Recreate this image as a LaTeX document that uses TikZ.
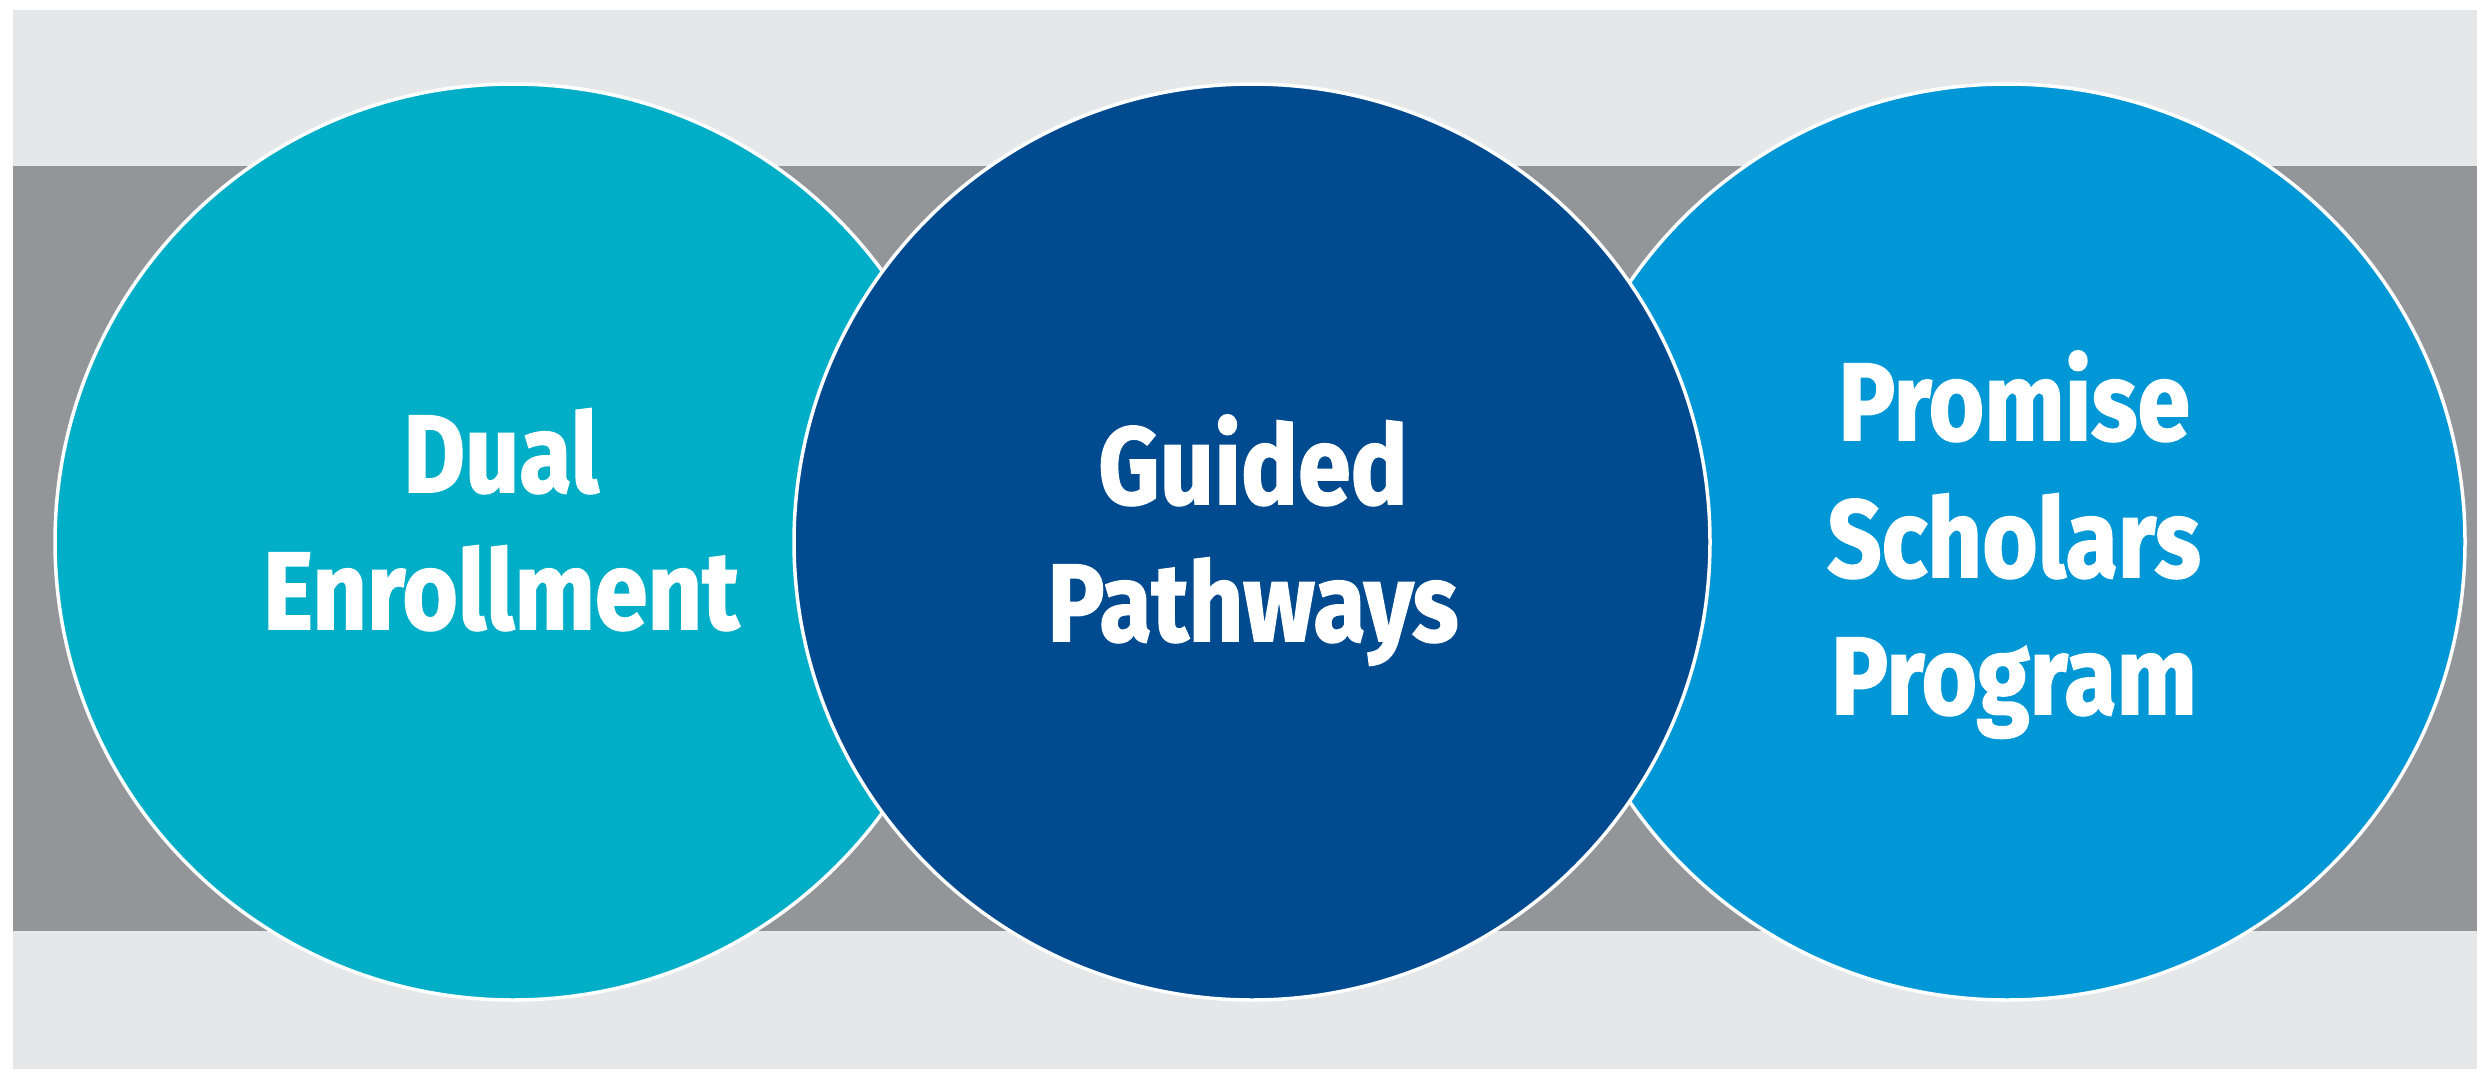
\documentclass[tikz,border=0pt]{standalone}
\usepackage{fontspec}
\usepackage{graphicx}
\setmainfont{Fira Sans}[BoldFeatures={FakeBold=1.6}]
\definecolor{bglight}{HTML}{E6E7E8}
\definecolor{banddark}{HTML}{949599}
\definecolor{tealc}{HTML}{00AFC7}
\definecolor{navyc}{HTML}{004A8F}
\definecolor{skyc}{HTML}{0097D6}
\newcommand\labelfont{\bfseries\fontsize{110}{137}\selectfont}
\newlength\enwidth
\begin{document}
\settowidth\enwidth{\labelfont Enrollment}%
\pgfmathsetmacro\xs{476/\enwidth}%
\begin{tikzpicture}[x=1pt,y=-1pt,
  bubble/.style={circle, minimum size=916pt, inner sep=0pt, draw=white, line width=3.5pt},
  lbl/.style={text=white, inner sep=0pt, anchor=base, font=\labelfont}]
\useasboundingbox (0,0) rectangle (2477,1069);
\fill[white] (0,0) rectangle (2477,1069);
\fill[bglight] (13,10) rectangle (2477,1069);
\fill[banddark] (13,166) rectangle (2477,931);
\node[bubble, fill=tealc] (dual) at (513,542) {};
\node[bubble, fill=skyc] (promise) at (2007,542) {};
\node[bubble, fill=navyc] (guided) at (1252,542) {};
\node[lbl] (duallbl) at (501,492) {\scalebox{\xs}[1]{\begin{tabular}[t]{@{}c@{}}Dual\\Enrollment\end{tabular}}};
\node[lbl] (guidedlbl) at (1253,504) {\scalebox{\xs}[1]{\begin{tabular}[t]{@{}c@{}}Guided\\Pathways\end{tabular}}};
\node[lbl] (promiselbl) at (2014,440) {\scalebox{\xs}[1]{\begin{tabular}[t]{@{}c@{}}Promise\\Scholars\\Program\end{tabular}}};
\end{tikzpicture}
\end{document}
